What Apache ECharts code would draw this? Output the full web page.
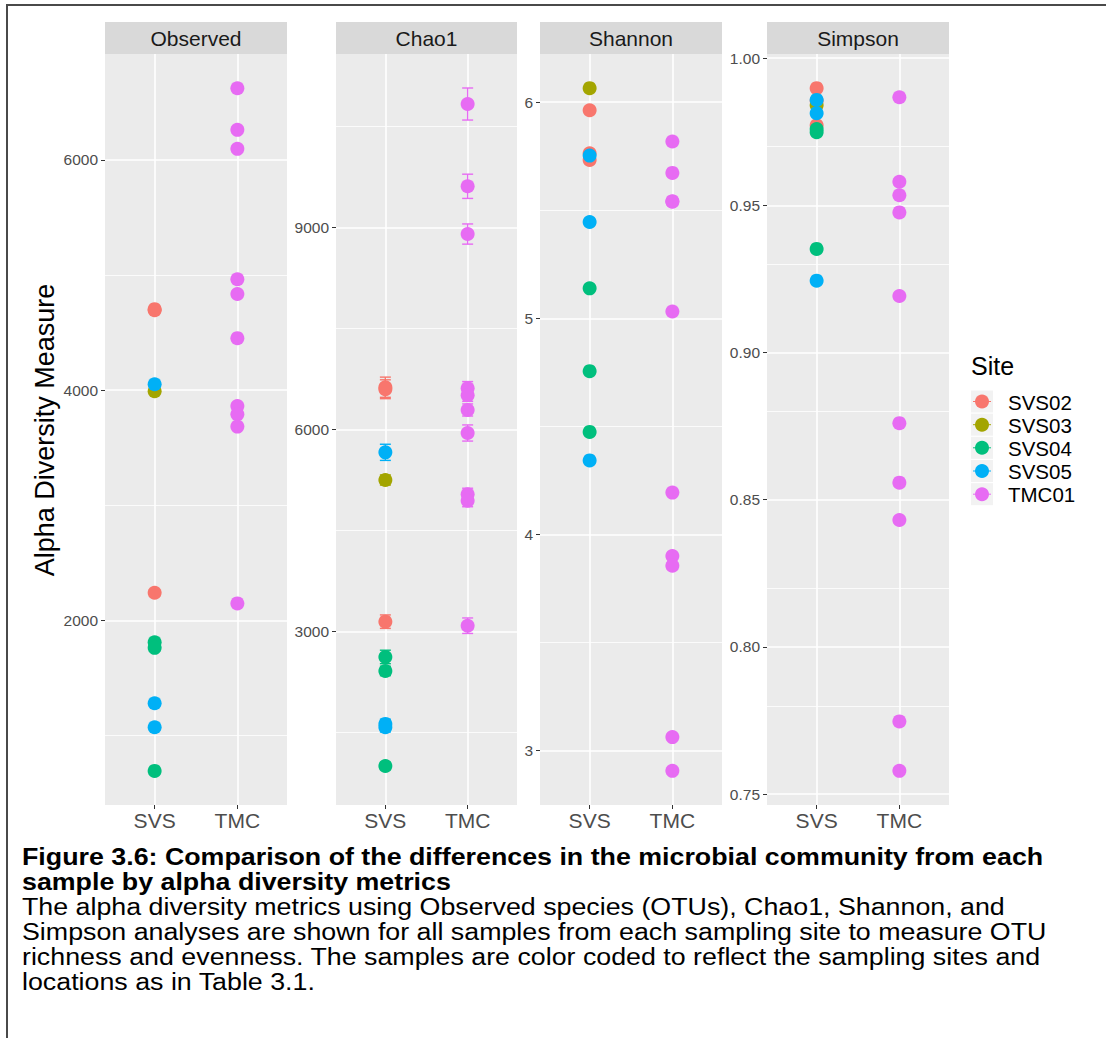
<!DOCTYPE html>
<html><head><meta charset="utf-8">
<script src="https://cdn.jsdelivr.net/npm/echarts@6/dist/echarts.min.js"></script>
<style>
html,body{margin:0;padding:0;background:#fff;}
#wrap{position:relative;width:1106px;height:1038px;overflow:hidden;font-family:"Liberation Sans",Arial,sans-serif;}
#frame{position:absolute;left:6px;top:4px;width:1200px;height:1100px;border-left:2px solid #4a4a4a;border-top:2px solid #4a4a4a;}
#chart{position:absolute;left:0;top:0;width:1106px;height:840px;}
#caption{position:absolute;left:22px;top:844.5px;font-size:23.5px;line-height:25px;color:#000;white-space:nowrap;transform:scaleX(1.14);transform-origin:0 0;}
#caption .b{font-weight:bold;}
</style></head>
<body><div id="wrap"><div id="frame"></div><div id="chart"></div>
<div id="caption">
<div class="b">Figure 3.6: Comparison of the differences in the microbial community from each</div>
<div class="b">sample by alpha diversity metrics</div>
<div>The alpha diversity metrics using Observed species (OTUs), Chao1, Shannon, and</div>
<div>Simpson analyses are shown for all samples from each sampling site to measure OTU</div>
<div>richness and evenness. The samples are color coded to reflect the sampling sites and</div>
<div>locations as in Table 3.1.</div>
</div></div>
<script>
// ---- data ----
const sites = ['SVS02', 'SVS03', 'SVS04', 'SVS05', 'TMC01'];
const siteGroup = ['SVS', 'SVS', 'SVS', 'SVS', 'TMC'];
const siteColors = ['#F8766D', '#A3A500', '#00BF7D', '#00B0F6', '#E76BF3'];
const groupNames = ['SVS', 'TMC'];
const metrics = ['Observed', 'Chao1', 'Shannon', 'Simpson'];

const sampleSite = ['SVS02','SVS02','SVS02','SVS03','SVS04','SVS04','SVS04','SVS05','SVS05','SVS05',
  'TMC01','TMC01','TMC01','TMC01','TMC01','TMC01','TMC01','TMC01','TMC01','TMC01'];
const observed = [4704, 4695, 2241, 3991, 1811, 1762, 693, 4052, 1281, 1072,
  6623, 6261, 6096, 4963, 4835, 4452, 3863, 3791, 3684, 2148];
const chao1 = [6625, 6595, 3143, 5247, 2619, 2411, 1000, 5658, 1624, 1574,
  10831, 9609, 8900, 6609, 6505, 6287, 5945, 5035, 4940, 3083];
const chao1SE = [150, 140, 100, 75, 100, 70, 55, 120, 70, 70,
  238, 180, 150, 100, 90, 90, 120, 90, 90, 115];
const shannon = [5.963, 5.764, 5.733, 6.065, 5.139, 4.756, 4.475, 5.753, 5.446, 4.343,
  5.818, 5.673, 5.542, 5.032, 4.194, 3.901, 3.856, 3.063, 2.907, 5.540];
const simpson = [0.9898, 0.9855, 0.9772, 0.984, 0.9759, 0.9748, 0.9352, 0.9858, 0.9813, 0.9244,
  0.9867, 0.9580, 0.9534, 0.9476, 0.9192, 0.8760, 0.8558, 0.8431, 0.7747, 0.7579];

const yMajor = [[2000, 4000, 6000], [3000, 6000, 9000], [3, 4, 5, 6], [0.75, 0.80, 0.85, 0.90, 0.95, 1.00]];
const yMinor = [[1000, 3000, 5000], [1500, 4500, 7500, 10500], [3.5, 4.5, 5.5], [0.775, 0.825, 0.875, 0.925, 0.975]];
const yRange = [[397, 6920], [420, 11574], [2.749, 6.223], [0.7463, 1.0014]];

// ---- layout ----
const panelLeft = [105, 336, 540, 767];
const panelWidth = [182, 181, 182, 182];
const panelTop = 54, panelHeight = 751;
const values = [observed, chao1, shannon, simpson];

const grid = [], xAxis = [], yAxis = [], series = [], graphic = [];
const tickColor = '#333333', labelColor = '#4D4D4D';

for (let p = 0; p < 4; p++) {
  grid.push({left: panelLeft[p], top: panelTop, width: panelWidth[p], height: panelHeight,
    show: true, backgroundColor: '#EBEBEB', borderWidth: 0, containLabel: false});
  xAxis.push({type: 'value', gridIndex: p, min: 0.4, max: 2.6,
    axisLine: {show: false}, splitLine: {show: false},
    axisTick: {show: true, length: 4, customValues: [1, 2], lineStyle: {color: tickColor, width: 1}},
    axisLabel: {customValues: [1, 2], formatter: v => groupNames[Math.round(v) - 1],
      fontSize: 21, color: labelColor, margin: 5, fontFamily: 'Liberation Sans'}});
  yAxis.push({type: 'value', gridIndex: p, min: yRange[p][0], max: yRange[p][1],
    axisLine: {show: false}, splitLine: {show: false},
    axisTick: {show: true, length: 4, customValues: yMajor[p], lineStyle: {color: tickColor, width: 1}},
    axisLabel: {customValues: yMajor[p], fontSize: 15.5, color: labelColor, margin: 7, fontFamily: 'Liberation Sans',
      formatter: v => p === 3 ? v.toFixed(2) : String(v)}});
  // gridlines
  const ml = [];
  yMinor[p].forEach(v => { if (v > yRange[p][0] && v < yRange[p][1]) ml.push({yAxis: v, lineStyle: {color: '#FFFFFF', width: 0.8, type: 'solid'}}); });
  yMajor[p].forEach(v => ml.push({yAxis: v, lineStyle: {color: '#FFFFFF', width: 1.6, type: 'solid'}}));
  [1, 2].forEach(v => ml.push({xAxis: v, lineStyle: {color: '#FFFFFF', width: 1.6, type: 'solid'}}));
  series.push({type: 'scatter', xAxisIndex: p, yAxisIndex: p, data: [], z: 1, silent: true,
    markLine: {z: 1, silent: true, symbol: ['none', 'none'], label: {show: false}, animation: false, data: ml}});
  // strip
  graphic.push({type: 'rect', shape: {x: panelLeft[p], y: 22, width: panelWidth[p], height: 32}, style: {fill: '#D9D9D9'}, z: 1});
  graphic.push({type: 'text', x: panelLeft[p] + panelWidth[p] / 2, y: 38.5, z: 2,
    style: {text: metrics[p], font: '21px "Liberation Sans"', fill: '#1A1A1A', align: 'center', verticalAlign: 'middle'}});
}

// error bars for Chao1
sites.forEach((s, si) => {
  const d = [];
  sampleSite.forEach((ss, j) => { if (ss === s) d.push([groupNames.indexOf(siteGroup[si]) + 1, chao1[j] - chao1SE[j], chao1[j] + chao1SE[j]]); });
  series.push({type: 'custom', xAxisIndex: 1, yAxisIndex: 1, z: 10, silent: true, data: d,
    encode: {x: 0, y: [1, 2]},
    renderItem: (params, api) => {
      const x = api.value(0);
      const a = api.coord([x, api.value(2)]), b = api.coord([x, api.value(1)]);
      const hw = 5.5, st = {stroke: siteColors[si], lineWidth: 1.4};
      return {type: 'group', children: [
        {type: 'line', shape: {x1: a[0], y1: a[1], x2: b[0], y2: b[1]}, style: st},
        {type: 'line', shape: {x1: a[0] - hw, y1: a[1], x2: a[0] + hw, y2: a[1]}, style: st},
        {type: 'line', shape: {x1: b[0] - hw, y1: b[1], x2: b[0] + hw, y2: b[1]}, style: st}
      ]};
    }});
});

// points
for (let p = 0; p < 4; p++) {
  sites.forEach((s, si) => {
    const d = [];
    sampleSite.forEach((ss, j) => { if (ss === s) d.push([groupNames.indexOf(siteGroup[si]) + 1, values[p][j]]); });
    series.push({type: 'scatter', name: s, xAxisIndex: p, yAxisIndex: p, z: 11, data: d,
      symbol: 'circle', symbolSize: 14, itemStyle: {color: siteColors[si], opacity: 1}});
  });
}

// y-axis title
graphic.push({type: 'text', x: 45, y: 430, rotation: Math.PI / 2,
  style: {text: 'Alpha Diversity Measure', font: '27px "Liberation Sans"', fill: '#000', align: 'center', verticalAlign: 'middle'}});
// legend
graphic.push({type: 'text', x: 971, y: 366,
  style: {text: 'Site', font: '25px "Liberation Sans"', fill: '#000', align: 'left', verticalAlign: 'middle'}});
const legendY = [401.5, 424.7, 447.8, 471, 494.2];
sites.forEach((s, i) => {
  const cy = legendY[i];
  graphic.push({type: 'rect', shape: {x: 971, y: cy - 11, width: 22, height: 22}, style: {fill: '#F2F2F2'}});
  graphic.push({type: 'line', shape: {x1: 973, y1: cy, x2: 991, y2: cy}, style: {stroke: siteColors[i], lineWidth: 1}});
  graphic.push({type: 'circle', shape: {cx: 982, cy: cy, r: 7}, style: {fill: siteColors[i]}});
  graphic.push({type: 'text', x: 1008, y: cy + 0.5,
    style: {text: s, font: '20.5px "Liberation Sans"', fill: '#000', align: 'left', verticalAlign: 'middle'}});
});

const chart = echarts.init(document.getElementById('chart'), null, {renderer: 'svg'});
chart.setOption({animation: false, backgroundColor: 'transparent', textStyle: {fontFamily: 'Liberation Sans'},
  grid, xAxis, yAxis, series, graphic});
</script>
</body></html>
